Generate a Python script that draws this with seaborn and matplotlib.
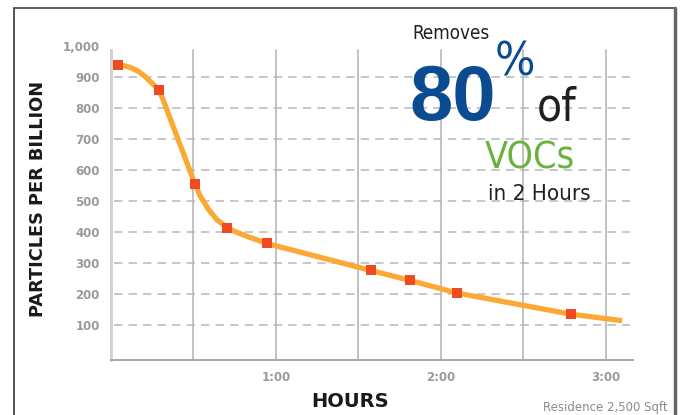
import numpy as np
import pandas as pd
import seaborn as sns
import matplotlib
matplotlib.use("Agg")
import matplotlib.pyplot as plt
from matplotlib.lines import Line2D
from matplotlib import font_manager as fm

# ---- data (minutes, particles per billion) ----
curve_minutes = [2.4, 5.0, 7.5, 10.0, 12.4, 14.2, 16.0, 17.5, 19.0, 30.5, 32.4, 35.4,
                 38.5, 42.4, 46.0, 49.5, 56.7, 94.5, 108.7, 126.0, 167.3, 186.0]
curve_ppb = [940, 936, 929, 918, 902, 886, 871, 857, 826, 556, 517, 474,
             440, 413, 398, 386, 363, 276, 244, 203, 135, 114]
marker_minutes = [2.4, 17.5, 30.5, 42.4, 56.7, 94.5, 108.7, 126.0, 167.3]
marker_ppb = [940, 857, 556, 413, 363, 276, 244, 203, 135]
ytick_values = [100, 200, 300, 400, 500, 600, 700, 800, 900, 1000]
ytick_labels = ["100", "200", "300", "400", "500", "600", "700", "800", "900", "1,000"]
xtick_values = [60, 120, 180]
xtick_labels = ["1:00", "2:00", "3:00"]
vgrid_values = [30, 60, 90, 120, 150, 180]
hgrid_values = [100, 200, 300, 400, 500, 600, 700, 800, 900]

curve_df = pd.DataFrame({"minutes": curve_minutes, "ppb": curve_ppb})
marker_df = pd.DataFrame({"minutes": marker_minutes, "ppb": marker_ppb})

sns.set_theme(style="white")
plt.rcParams["font.family"] = ["DejaVu Sans"]

names = {f.name for f in fm.fontManager.ttflist}
has_narrow = "Liberation Sans Narrow" in names

W, H = 680, 415
fig = plt.figure(figsize=(W / 100, H / 100), dpi=100)
fig.patch.set_facecolor("white")

def fx(px):
    return px / W

def fy(py):
    return 1 - py / H

ax = fig.add_axes([fx(111), fy(360), fx(633) - fx(111), fy(46) - fy(360)])
ax.set_facecolor("white")
ax.set_xlim(0, 190)
ax.set_ylim(-13, 1000)

# grid
for v in vgrid_values:
    ax.axvline(v, ymin=0, ymax=(987 + 13) / 1013, color="#bdbdbd", lw=1.3, zorder=1)
for h in hgrid_values:
    ax.axhline(h, xmin=0.006, xmax=0.995, color="#b8b8b8", lw=1.1,
               dashes=(5.5, 4.0), zorder=1)

sns.lineplot(data=curve_df, x="minutes", y="ppb", ax=ax, color="#FBA834",
             lw=3.8, solid_capstyle="butt", solid_joinstyle="round", zorder=3)
sns.scatterplot(data=marker_df, x="minutes", y="ppb", ax=ax, marker="s",
                color="#EF4B23", s=44, linewidth=0, zorder=4)

for side in ["top", "right"]:
    ax.spines[side].set_visible(False)
ax.spines["left"].set_color("#cfcfcf")
ax.spines["left"].set_linewidth(2.0)
ax.spines["left"].set_bounds(-13, 987)
ax.spines["bottom"].set_color("#a9a9a9")
ax.spines["bottom"].set_linewidth(1.4)

ax.set_yticks(ytick_values)
ax.set_yticklabels(ytick_labels)
ax.set_xticks(xtick_values)
ax.set_xticklabels(xtick_labels)
ax.tick_params(axis="both", length=0, labelcolor="#9a9a9a", labelsize=8.5)
ax.tick_params(axis="y", pad=8)
ax.tick_params(axis="x", pad=8)
for lab in ax.get_xticklabels() + ax.get_yticklabels():
    lab.set_fontweight("bold")

ax.set_xlabel("HOURS", fontsize=14, fontweight="bold", color="#1a1a1a")
ax.xaxis.set_label_coords((350 - 111) / 522, (360 - 392) / 314)
ax.set_ylabel("PARTICLES PER BILLION", fontsize=12.8, fontweight="bold", color="#1a1a1a")
ax.yaxis.set_label_coords((47 - 111) / 522, (360 - 199) / 314)

# outer frame
fig.add_artist(Line2D([fx(14), fx(14)], [fy(8), 0], color="#333333", lw=1.2))
fig.add_artist(Line2D([fx(14), fx(675)], [fy(8), fy(8)], color="#444444", lw=1.2))
fig.add_artist(Line2D([fx(674.5), fx(674.5)], [fy(8), 0], color="#666666", lw=2.5))

# headline text
if has_narrow:
    kw = dict(family=["Liberation Sans Narrow", "DejaVu Sans"])
    s_rem, s_pct, s_of, s_voc, s_in = 16, 40, 40, 33, 20
else:
    kw = dict(family=["DejaVu Sans"], fontstretch="condensed")
    s_rem, s_pct, s_of, s_voc, s_in = 13.5, 34, 33, 27, 16

dark = "#231F20"
blue = "#0A4B91"
fig.text(fx(412), fy(39), "Removes", fontsize=s_rem, color=dark, va="baseline", ha="left", **kw)
fig.text(fx(409), fy(120), "80", fontsize=56, color=blue, va="baseline", ha="left",
         family=["Liberation Sans", "DejaVu Sans"], fontweight="bold")
fig.text(fx(495), fy(41), "%", fontsize=s_pct, color=blue, va="top", ha="left", **kw)
fig.text(fx(537), fy(120), "of", fontsize=s_of, color=dark, va="baseline", ha="left", **kw)
fig.text(fx(485), fy(168), "VOCs", fontsize=s_voc, color="#6AB23E", va="baseline", ha="left", **kw)
fig.text(fx(488), fy(200), "in 2 Hours", fontsize=s_in, color=dark, va="baseline", ha="left", **kw)

fig.text(fx(668), fy(414), "Residence 2,500 Sqft", fontsize=8.5, color="#8a8a8a",
         va="bottom", ha="right", family=["DejaVu Sans"])

fig.savefig("out.png", dpi=100, facecolor="white")
